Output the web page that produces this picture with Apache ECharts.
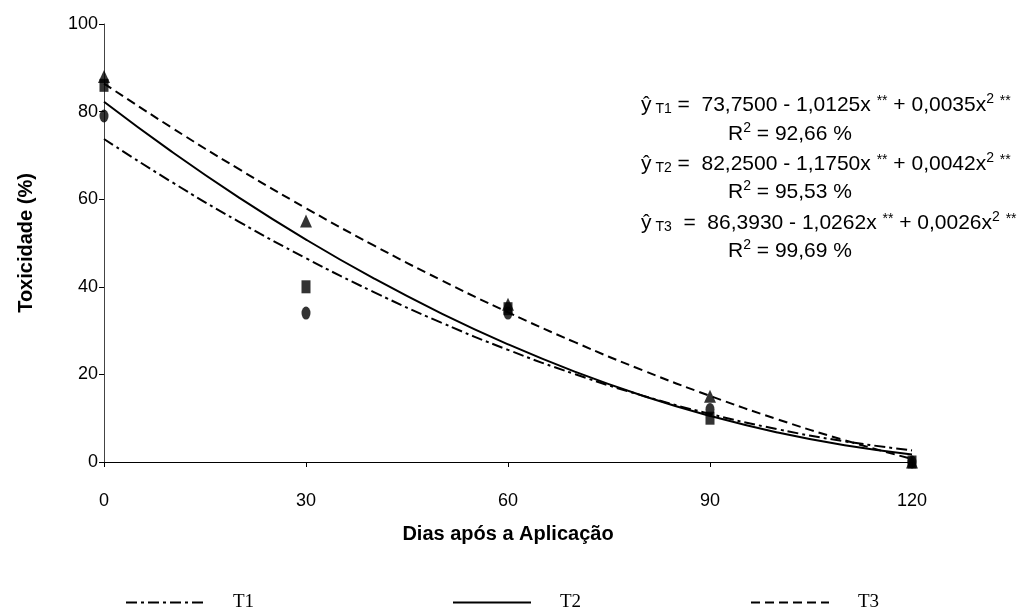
<!DOCTYPE html>
<html>
<head>
<meta charset="utf-8">
<script src="https://cdn.jsdelivr.net/npm/echarts@6/dist/echarts.min.js"></script>
<style>
  html, body { margin: 0; padding: 0; background: #fff; }
  #chart { width: 1019px; height: 615px; }
</style>
</head>
<body>
<div id="chart"></div>
<script>
// observed values (days after application)
const days = [0, 30, 60, 90, 120];
const t1Obs = [79, 34, 34, 12, 0];
const t2Obs = [86, 40, 35, 10, 0];
const t3Obs = [88, 55, 36, 15, 0];

// fitted curves read at every 10 days
const curveDays = [0, 10, 20, 30, 40, 50, 60, 70, 80, 90, 100, 110, 120];
const t1Fit = [73.75, 63.98, 54.9, 46.53, 38.85, 31.88, 25.6, 20.03, 15.15, 10.98, 7.5, 4.73, 2.65];
const t2Fit = [82.25, 70.92, 60.43, 50.78, 41.97, 34.0, 26.87, 20.58, 15.13, 10.52, 6.75, 3.82, 1.73];
const t3Fit = [86.39, 76.39, 66.91, 57.95, 49.5, 41.58, 34.18, 27.3, 20.94, 15.1, 9.77, 4.97, 0.69];

const seriesNames = ['T1', 'T2', 'T3'];

const pairs = (xs, ys) => xs.map((x, i) => [x, ys[i]]);

const chart = echarts.init(document.getElementById('chart'));

const eqStyles = {
  a: { fontSize: 21, fontFamily: 'Liberation Sans, Arial', color: '#000', lineHeight: 26 },
  s: { fontSize: 14, fontFamily: 'Liberation Sans, Arial', color: '#000', verticalAlign: 'bottom', lineHeight: 26, padding: [0, 0, 2, 0] },
  sup: { fontSize: 14, fontFamily: 'Liberation Sans, Arial', color: '#000', verticalAlign: 'top', lineHeight: 26 },
  st: { fontSize: 14, fontFamily: 'Liberation Sans, Arial', color: '#000', verticalAlign: 'top', lineHeight: 26, padding: [2, 0, 0, 0] }
};

const eqLines = [
  { x: 641, y: 105, text: '{a|ŷ}{s| T1}{a| =  73,7500 - 1,0125x }{st|**}{a| + 0,0035x}{sup|2}{a| }{st|**}' },
  { x: 728, y: 134, text: '{a|R}{sup|2}{a| = 92,66 %}' },
  { x: 641, y: 164, text: '{a|ŷ}{s| T2}{a| =  82,2500 - 1,1750x }{st|**}{a| + 0,0042x}{sup|2}{a| }{st|**}' },
  { x: 728, y: 192, text: '{a|R}{sup|2}{a| = 95,53 %}' },
  { x: 641, y: 223, text: '{a|ŷ}{s| T3}{a|  =  86,3930 - 1,0262x }{st|**}{a| + 0,0026x}{sup|2}{a| }{st|**}' },
  { x: 728, y: 251, text: '{a|R}{sup|2}{a| = 99,69 %}' }
];

const lineTypes = [[11, 4, 3, 4], 'solid', [9, 5]];
const fits = [t1Fit, t2Fit, t3Fit];
const obs = [t1Obs, t2Obs, t3Obs];
const symbols = ['circle', 'rect', 'triangle'];
const legendLeft = [120, 447, 745];

const option = {
  animation: false,
  backgroundColor: '#fff',
  grid: { left: 104, right: 107, top: 24, bottom: 153 },
  xAxis: {
    type: 'value',
    min: 0,
    max: 120,
    interval: 30,
    name: 'Dias após a Aplicação',
    nameLocation: 'middle',
    nameGap: 62,
    nameTextStyle: { fontSize: 20, fontWeight: 'bold', fontFamily: 'Liberation Sans, Arial', color: '#000' },
    axisLine: { lineStyle: { color: '#000', width: 1 } },
    axisTick: { show: true, length: 5, lineStyle: { color: '#000' } },
    axisLabel: { fontSize: 18, fontFamily: 'Liberation Sans, Arial', color: '#000', margin: 30 },
    splitLine: { show: false }
  },
  yAxis: {
    type: 'value',
    min: 0,
    max: 100,
    interval: 20,
    name: 'Toxicidade (%)',
    nameLocation: 'middle',
    nameGap: 68,
    nameTextStyle: { fontSize: 20, fontWeight: 'bold', fontFamily: 'Liberation Sans, Arial', color: '#000' },
    axisLine: { show: true, lineStyle: { color: '#444', width: 1 } },
    axisTick: { show: true, length: 5, lineStyle: { color: '#000' } },
    axisLabel: { fontSize: 18, fontFamily: 'Liberation Sans, Arial', color: '#000', margin: 6 },
    splitLine: { show: false }
  },
  legend: seriesNames.map((name, i) => ({
    data: [name],
    left: legendLeft[i],
    top: 588,
    itemWidth: 78,
    itemHeight: 14,
    itemStyle: { color: 'rgba(0,0,0,0)', borderWidth: 0, opacity: 0 },
    textStyle: { fontSize: 19, fontFamily: 'Liberation Serif, Times New Roman', color: '#000', padding: [0, 0, 0, 24] },
    selectedMode: false
  })),
  series: [
    ...seriesNames.map((name, i) => ({
      name: name,
      type: 'line',
      data: pairs(curveDays, fits[i]),
      smooth: true,
      symbol: 'none',
      lineStyle: { color: '#000', width: 2, type: lineTypes[i] },
      itemStyle: { color: '#000' },
      z: 2
    })),
    ...seriesNames.map((name, i) => ({
      name: name + ' obs',
      type: 'scatter',
      data: pairs(days, obs[i]),
      symbol: symbols[i],
      symbolSize: symbols[i] === 'triangle' ? [12, 13] : [9, 13],
      itemStyle: { color: '#000' },
      z: 3
    }))
  ],
  graphic: eqLines.map(l => ({
    type: 'text',
    left: l.x,
    top: l.y - 13,
    style: { text: l.text, rich: eqStyles }
  }))
};

chart.setOption(option);
</script>
</body>
</html>
